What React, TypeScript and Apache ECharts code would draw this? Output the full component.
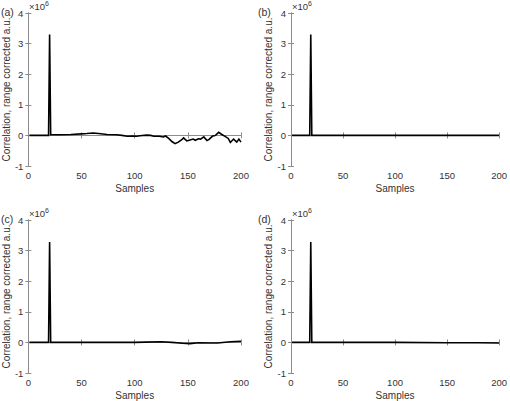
import React, { useEffect, useRef } from "react";
import * as echarts from "echarts";

const PANEL_LABELS = ["(a)", "(b)", "(c)", "(d)"];
const X_TITLE = "Samples";
const Y_TITLE = "Correlation, range corrected a.u.";
const X_MIN = 0;
const X_MAX = 200;
const X_STEP = 50;
const Y_MIN = -1;
const Y_MAX = 4;
const Y_STEP = 1;

// values in units of 10^6
const A_X = [1, 19, 20, 21, 30, 40, 50, 55, 61, 66, 74, 83, 88, 93, 98, 102, 105, 111, 115, 118, 123, 127, 129, 132, 135, 138, 141, 144, 146, 149, 152, 155, 157, 160, 162, 165, 168, 170, 173, 176, 179, 182, 185, 188, 190, 193, 196, 198, 200];
const A_Y = [0, 0, 3.3, 0.02, 0.02, 0.03, 0.05, 0.06, 0.08, 0.06, 0.03, 0.02, 0.0, -0.03, -0.02, -0.03, -0.01, 0.01, 0.0, -0.03, -0.03, -0.05, -0.02, -0.1, -0.2, -0.27, -0.22, -0.15, -0.08, -0.18, -0.15, -0.12, -0.16, -0.11, -0.12, -0.05, -0.17, -0.13, -0.03, 0.0, 0.1, 0.03, -0.03, -0.1, -0.23, -0.12, -0.22, -0.12, -0.22];

const B_X = [1, 18, 19, 20, 200];
const B_Y = [0, 0, 3.3, 0, 0];

const C_X = [1, 19, 20, 21, 50, 100, 110, 125, 135, 145, 152, 160, 170, 178, 190, 200];
const C_Y = [0, 0, 3.28, 0, 0, 0.0, 0.01, 0.02, 0.0, -0.03, -0.04, -0.01, -0.02, -0.02, 0.02, 0.04];

const D_X = [1, 18, 19, 20, 100, 150, 180, 200];
const D_Y = [0, 0, 3.28, 0, 0, -0.01, -0.01, -0.02];

const SERIES_X = [A_X, B_X, C_X, D_X];
const SERIES_Y = [A_Y, B_Y, C_Y, D_Y];

const GRIDS = [
  { left: 28, top: 13, width: 213, height: 153 },
  { left: 291, top: 13, width: 211, height: 153 },
  { left: 28, top: 220, width: 213, height: 153 },
  { left: 291, top: 220, width: 211, height: 153 },
];

const FONT = "'Liberation Sans', Arial, sans-serif";
const TEXT = "#333333";
const AXIS = "#8c8c8c";

export default function App() {
  const ref = useRef<HTMLDivElement>(null);
  useEffect(() => {
    document.body.style.margin = "0";
    const chart = echarts.init(ref.current!, undefined, { renderer: "svg" });
    const xAxis: any[] = [];
    const yAxis: any[] = [];
    const series: any[] = [];
    const graphic: any[] = [];
    GRIDS.forEach((g, i) => {
      const tick = { show: true, inside: true, length: 3, lineStyle: { color: AXIS, width: 1 } };
      xAxis.push({
        type: "value", gridIndex: i, position: "bottom", min: X_MIN, max: X_MAX, interval: X_STEP,
        axisLine: { show: true, lineStyle: { color: AXIS, width: 1 } },
        axisTick: tick, splitLine: { show: false },
        axisLabel: { color: TEXT, fontSize: 9.5, fontFamily: FONT, margin: 4 },
        name: X_TITLE, nameLocation: "middle", nameGap: 17,
        nameTextStyle: { color: TEXT, fontSize: 10, fontFamily: FONT, fontWeight: 400 },
      });
      xAxis.push({
        type: "value", gridIndex: i, position: "top", min: X_MIN, max: X_MAX, interval: X_STEP,
        axisLine: { show: true, lineStyle: { color: AXIS, width: 1 } },
        axisTick: tick, axisLabel: { show: false }, splitLine: { show: false },
      });
      yAxis.push({
        type: "value", gridIndex: i, position: "left", min: Y_MIN, max: Y_MAX, interval: Y_STEP,
        axisLine: { show: true, lineStyle: { color: AXIS, width: 1 } },
        axisTick: tick, splitLine: { show: false },
        axisLabel: { color: TEXT, fontSize: 9.5, fontFamily: FONT, margin: 5 },
        name: Y_TITLE, nameLocation: "middle", nameGap: 14,
        nameTextStyle: { color: TEXT, fontSize: 10, fontFamily: FONT, fontWeight: 400 },
      });
      yAxis.push({
        type: "value", gridIndex: i, position: "right", min: Y_MIN, max: Y_MAX, interval: Y_STEP,
        axisLine: { show: true, lineStyle: { color: AXIS, width: 1 } },
        axisTick: tick, axisLabel: { show: false }, splitLine: { show: false },
      });
      const xs = SERIES_X[i];
      const ys = SERIES_Y[i];
      series.push({
        type: "line", xAxisIndex: 2 * i, yAxisIndex: 2 * i,
        data: xs.map((x, k) => [x, ys[k]]),
        showSymbol: false, symbol: "none",
        lineStyle: { color: "#000", width: 1.6, join: "miter" },
      });
      graphic.push({
        type: "text", left: i % 2 === 0 ? 1 : 258, top: g.top - 7,
        style: { text: PANEL_LABELS[i], fill: TEXT, fontSize: 10.5, fontFamily: FONT },
      });
      graphic.push({
        type: "text", left: g.left + 1, top: g.top - 13,
        style: {
          text: "×10{s|6}", fill: TEXT, fontSize: 9.5, fontFamily: FONT,
          rich: { s: { fontSize: 7, fill: TEXT, fontFamily: FONT, verticalAlign: "top", padding: [0, 0, 5, 0] } },
        },
      });
    });
    chart.setOption({
      animation: false,
      backgroundColor: "#fff",
      grid: GRIDS.map((g) => ({ ...g, containLabel: false })),
      xAxis, yAxis, series, graphic,
    });
    return () => chart.dispose();
  }, []);
  return <div ref={ref} style={{ width: 510, height: 401 }} />;
}
